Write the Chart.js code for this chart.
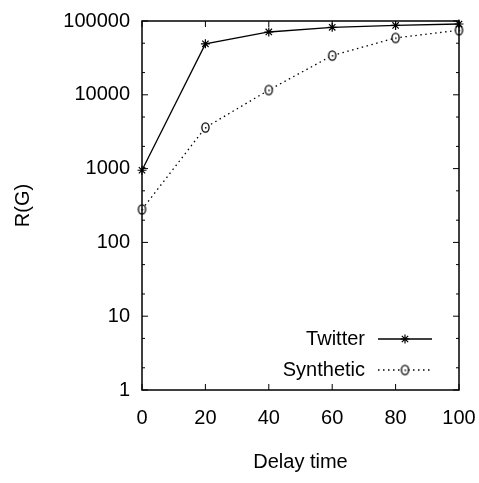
<!DOCTYPE html>
<html>
<head>
<meta charset="utf-8">
<script src="https://cdn.jsdelivr.net/npm/chart.js@4"></script>
<style>
  body { margin: 0; background: #fff; }
  canvas { display: block; }
</style>
</head>
<body>
<canvas id="chart_rg" width="479" height="483"></canvas>
<script>
var delays = [0, 20, 40, 60, 80, 100];
var twitterValues = [950, 49000, 71000, 82000, 87000, 91000];
var syntheticValues = [280, 3600, 11600, 34000, 59000, 75000];

var xTicks = [0, 20, 40, 60, 80, 100];
var yTicks = [1, 10, 100, 1000, 10000, 100000];
var yMinorTicks = [2, 5, 20, 50, 200, 500, 2000, 5000, 20000, 50000];

const FONT = "'Liberation Sans', Arial, sans-serif";
const FSIZE = 20;

// circle with a dot in the middle, like the gnuplot marker
function dotCircle() {
    const c = document.createElement('canvas');
    c.width = 11;
    c.height = 13;
    const ctx = c.getContext('2d');
    ctx.strokeStyle = '#000';
    ctx.lineWidth = 1.3;
    ctx.fillStyle = '#fff';
    ctx.beginPath();
    ctx.ellipse(5.5, 6.5, 3.6, 4.6, 0, 0, Math.PI * 2);
    ctx.fill();
    ctx.stroke();
    ctx.fillStyle = '#000';
    ctx.fillRect(5, 6, 1.5, 1.5);
    return c;
}

// frame, inward ticks on all four sides and the legend inside the plot
const gnuplotFrame = {
    id: 'gnuplotFrame',
    afterDatasetsDraw(chart) {
        const ctx = chart.ctx;
        const a = chart.chartArea;
        const xs = chart.scales.x;
        const ys = chart.scales.y;
        ctx.save();
        ctx.strokeStyle = '#000';
        ctx.lineWidth = 1.5;
        ctx.strokeRect(a.left, a.top, a.right - a.left, a.bottom - a.top);

        ctx.lineWidth = 1;
        ctx.beginPath();
        xTicks.forEach(v => {
            const px = xs.getPixelForValue(v);
            ctx.moveTo(px, a.bottom); ctx.lineTo(px, a.bottom - 6);
            ctx.moveTo(px, a.top); ctx.lineTo(px, a.top + 6);
        });
        yTicks.forEach(v => {
            const py = ys.getPixelForValue(v);
            ctx.moveTo(a.left, py); ctx.lineTo(a.left + 6, py);
            ctx.moveTo(a.right, py); ctx.lineTo(a.right - 6, py);
        });
        yMinorTicks.forEach(v => {
            const py = ys.getPixelForValue(v);
            ctx.moveTo(a.left, py); ctx.lineTo(a.left + 3, py);
            ctx.moveTo(a.right, py); ctx.lineTo(a.right - 3, py);
        });
        ctx.stroke();

        // legend
        ctx.font = FSIZE + 'px ' + FONT;
        ctx.fillStyle = '#000';
        ctx.textAlign = 'right';
        ctx.textBaseline = 'middle';
        const rows = [339, 370];
        chart.data.datasets.forEach((ds, i) => {
            const y = rows[i];
            ctx.fillText(ds.label, 365, y);
            ctx.strokeStyle = ds.borderColor;
            ctx.lineWidth = ds.borderWidth;
            ctx.setLineDash(ds.borderDash || []);
            ctx.beginPath();
            ctx.moveTo(378, y);
            ctx.lineTo(432, y);
            ctx.stroke();
            ctx.setLineDash([]);
            const meta = chart.getDatasetMeta(i);
            if (meta.data.length) {
                const pt = meta.data[0];
                const saveX = pt.x, saveY = pt.y;
                pt.x = 405; pt.y = y;
                pt.draw(ctx);
                pt.x = saveX; pt.y = saveY;
            }
        });
        ctx.restore();
    }
};

function createChart() {
    const datasets = [];

    datasets.push({
        label: 'Twitter',
        data: delays.map((d, i) => ({ x: d, y: twitterValues[i] })),
        borderColor: '#000',
        backgroundColor: '#000',
        borderWidth: 1.3,
        pointStyle: 'star',
        pointRadius: 4.5,
        pointBorderWidth: 1.2,
        clip: false,
        tension: 0
    });

    datasets.push({
        label: 'Synthetic',
        data: delays.map((d, i) => ({ x: d, y: syntheticValues[i] })),
        borderColor: '#000',
        backgroundColor: '#fff',
        borderWidth: 1.3,
        borderDash: [1.5, 3.5],
        pointStyle: dotCircle(),
        clip: false,
        tension: 0
    });

    const chart = new Chart('chart_rg', {
        type: 'line',
        data: { datasets: datasets },
        options: {
            responsive: false,
            animation: false,
            layout: { padding: { top: 21, right: 20, left: 0, bottom: 0 } },
            plugins: {
                legend: { display: false },
                tooltip: { enabled: false }
            },
            scales: {
                x: {
                    type: 'linear',
                    min: 0,
                    max: 100,
                    afterBuildTicks: s => { s.ticks = xTicks.map(v => ({ value: v })); },
                    afterFit: s => {
                        s.height = 93;
                        s.paddingLeft = 0;
                        s.paddingRight = 0;
                    },
                    grid: { display: false, drawTicks: false },
                    border: { display: false },
                    ticks: { color: '#000', padding: 16, font: { family: FONT, size: FSIZE } },
                    title: {
                        display: true,
                        text: 'Delay time',
                        color: '#000',
                        padding: { top: 0, bottom: 9 },
                        font: { family: FONT, size: FSIZE }
                    }
                },
                y: {
                    type: 'logarithmic',
                    min: 1,
                    max: 100000,
                    afterBuildTicks: s => { s.ticks = yTicks.map(v => ({ value: v })); },
                    afterFit: s => {
                        s.width = 142;
                        s.paddingTop = 0;
                        s.paddingBottom = 0;
                    },
                    grid: { display: false, drawTicks: false },
                    border: { display: false },
                    ticks: {
                        color: '#000',
                        padding: 12,
                        font: { family: FONT, size: FSIZE },
                        callback: v => String(v)
                    },
                    title: {
                        display: true,
                        text: 'R(G)',
                        color: '#000',
                        padding: { top: 11, bottom: 0 },
                        font: { family: FONT, size: FSIZE }
                    }
                }
            }
        },
        plugins: [gnuplotFrame]
    });

    return chart;
}

createChart();
</script>
</body>
</html>
